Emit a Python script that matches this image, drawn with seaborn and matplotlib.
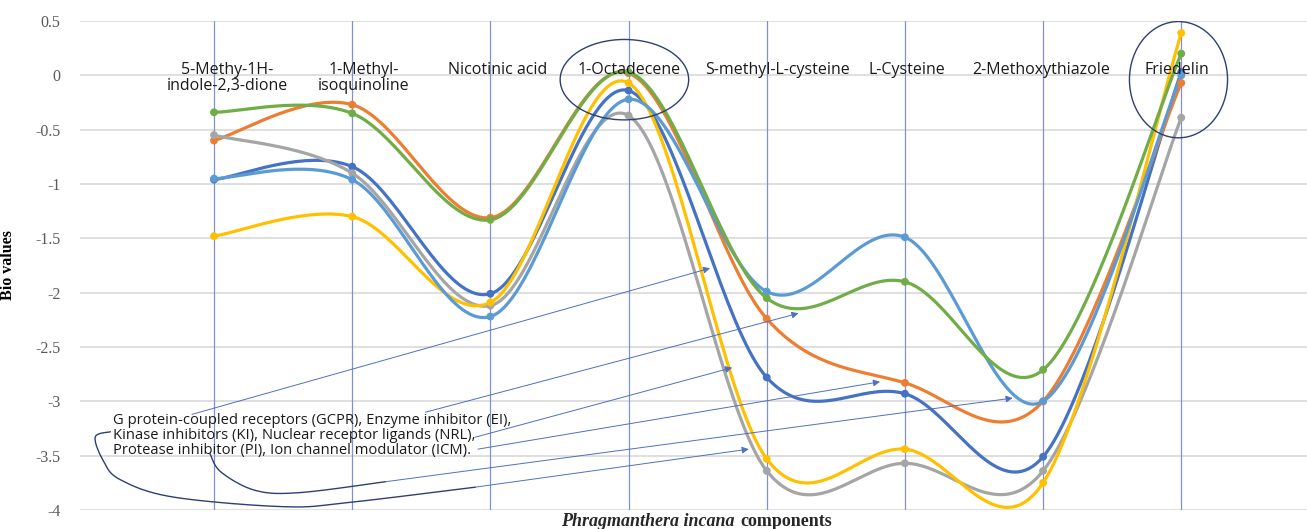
import numpy as np
import pandas as pd
import seaborn as sns
import matplotlib.pyplot as plt
from matplotlib.patches import Ellipse

# components on the x axis (shown as text labels above the curves)
components = ['5-Methy-1H-\nindole-2,3-dione', '1-Methyl-\nisoquinoline', 'Nicotinic acid',
              '1-Octadecene', 'S-methyl-L-cysteine', 'L-Cysteine', '2-Methoxythiazole', 'Friedelin']

# bioactivity scores per target class
gpcr = [-0.96, -0.84, -2.01, -0.14, -2.78, -2.93, -3.51, 0.03]
ei = [-0.60, -0.27, -1.31, 0.02, -2.24, -2.83, -3.00, -0.07]
ki = [-0.55, -0.90, -2.12, -0.37, -3.64, -3.57, -3.64, -0.39]
nrl = [-1.48, -1.30, -2.09, -0.07, -3.53, -3.44, -3.75, 0.39]
pi = [-0.95, -0.96, -2.22, -0.22, -1.99, -1.49, -3.00, 0.00]
icm = [-0.34, -0.35, -1.33, 0.03, -2.05, -1.90, -2.71, 0.20]

series = {'GPCR': gpcr, 'EI': ei, 'KI': ki, 'NRL': nrl, 'PI': pi, 'ICM': icm}
colors = {'GPCR': '#4472C4', 'EI': '#ED7D31', 'KI': '#A5A5A5',
          'NRL': '#FFC000', 'PI': '#5B9BD5', 'ICM': '#70AD47'}

# small horizontal nudges of the component labels (as placed in the original)
label_shift = [0.094, 0.08, 0.05, 0.007, 0.08, 0.015, -0.015, -0.03]

rows = []
for name, vals in series.items():
    for i, v in enumerate(vals):
        rows.append({'pos': i, 'value': v, 'target': name})
df = pd.DataFrame(rows)


def smooth(xs, ys, n=40):
    # excel-like smoothed line (bezier through the points)
    px = np.array(xs, dtype=float)
    py = np.array(ys, dtype=float)
    px = np.concatenate([[px[0]], px, [px[-1]]])
    py = np.concatenate([[py[0]], py, [py[-1]]])
    outx, outy = [], []
    t = np.linspace(0, 1, n)
    for i in range(1, len(px) - 2):
        b0 = np.array([px[i], py[i]])
        b3 = np.array([px[i + 1], py[i + 1]])
        b1 = b0 + (b3 - np.array([px[i - 1], py[i - 1]])) / 6
        b2 = b3 - (np.array([px[i + 2], py[i + 2]]) - b0) / 6
        pts = (np.outer((1 - t) ** 3, b0) + np.outer(3 * (1 - t) ** 2 * t, b1)
               + np.outer(3 * (1 - t) * t ** 2, b2) + np.outer(t ** 3, b3))
        outx.extend(pts[:, 0])
        outy.extend(pts[:, 1])
    return outx, outy


sns.set_style('white')
plt.rcParams['font.family'] = ['Open Sans', 'DejaVu Sans']

fig = plt.figure(figsize=(13.07, 5.29), dpi=100)
ax = fig.add_axes([80 / 1307, 1 - 510 / 529, 1 - 80 / 1307, (510 - 21) / 529])

ax.set_ylim(-4, 0.5)
ax.set_xlim(-0.97, 7.91)
ax.set_yticks(np.arange(-4, 0.51, 0.5))
ax.set_yticklabels(['%g' % v for v in np.arange(-4, 0.51, 0.5)],
                   family='Liberation Serif', fontsize=11.5, color='#595959')
ax.tick_params(axis='y', length=0, pad=14)
ax.set_xticks([])
ax.grid(axis='y', color='#D9D9D9', lw=1.2)
for s in ax.spines.values():
    s.set_visible(False)

for i in range(len(components)):
    ax.axvline(i, color='#8090D0', lw=0.9, zorder=1)

for name, vals in series.items():
    sx, sy = smooth(range(len(vals)), vals)
    ax.plot(sx, sy, color=colors[name], lw=2.3, zorder=3, solid_capstyle='round')
sns.scatterplot(data=df, x='pos', y='value', hue='target', palette=colors, s=32,
                edgecolor='none', legend=False, ax=ax, zorder=4)

for i, c in enumerate(components):
    ax.text(i + label_shift[i], 0.125, c, ha='center', va='top', fontsize=11.5,
            color='#1A1A1A', linespacing=1.05, zorder=5)

ax.add_patch(Ellipse((2.97, -0.04), 0.93, 0.74, fill=False, ec='#2F3F73', lw=1, zorder=5))
ax.add_patch(Ellipse((6.98, -0.04), 0.71, 1.07, fill=False, ec='#2F3F73', lw=1, zorder=5))

ax.text(-0.73, -3.105, 'G protein-coupled receptors (GCPR), Enzyme inhibitor (EI),\n'
        'Kinase inhibitors (KI), Nuclear receptor ligands (NRL),\n'
        'Protease inhibitor (PI), Ion channel modulator (ICM).',
        ha='left', va='top', fontsize=10.6, color='#1A1A1A', linespacing=1.0, zorder=5)

arrow_col = '#4F6FC0'
arrows = [((-0.16, -3.12), (3.59, -1.775)),
          ((1.53, -3.10), (4.23, -2.19)),
          ((1.89, -3.33), (3.75, -2.69)),
          ((1.91, -3.44), (4.82, -2.82)),
          ((1.24, -3.74), (5.78, -2.97)),
          ((1.89, -3.79), (3.87, -3.44))]
for start, end in arrows:
    ax.annotate('', xy=end, xytext=start,
                arrowprops=dict(arrowstyle='-|>', color=arrow_col, lw=0.7,
                                mutation_scale=10, shrinkA=0, shrinkB=0), zorder=5)

# curved connectors from the note
c1x = [-0.75, -0.86, -0.80, -0.68, -0.30, 0.51, 0.98, 1.89]
c1y = [-3.28, -3.33, -3.55, -3.72, -3.88, -3.97, -3.93, -3.79]
c2x = [-0.03, 0.05, 0.30, 0.62, 1.24]
c2y = [-3.48, -3.65, -3.82, -3.84, -3.74]
for cx, cy in [(c1x, c1y), (c2x, c2y)]:
    sx, sy = smooth(cx, cy, 20)
    ax.plot(sx, sy, color='#2F3F73', lw=1, zorder=5)

ax.set_ylabel('Bio values', family='Liberation Serif', fontweight='bold', fontsize=11.5,
              color='black', labelpad=14)

fig.text(735 / 1307, 8 / 529, 'Phragmanthera incana', ha='right', va='center',
         family='Liberation Serif', fontweight='bold', style='italic', fontsize=13)
fig.text(740 / 1307, 8 / 529, 'components', ha='left', va='center',
         family='Liberation Serif', fontweight='bold', fontsize=13)

fig.savefig('out.png', dpi=100)
